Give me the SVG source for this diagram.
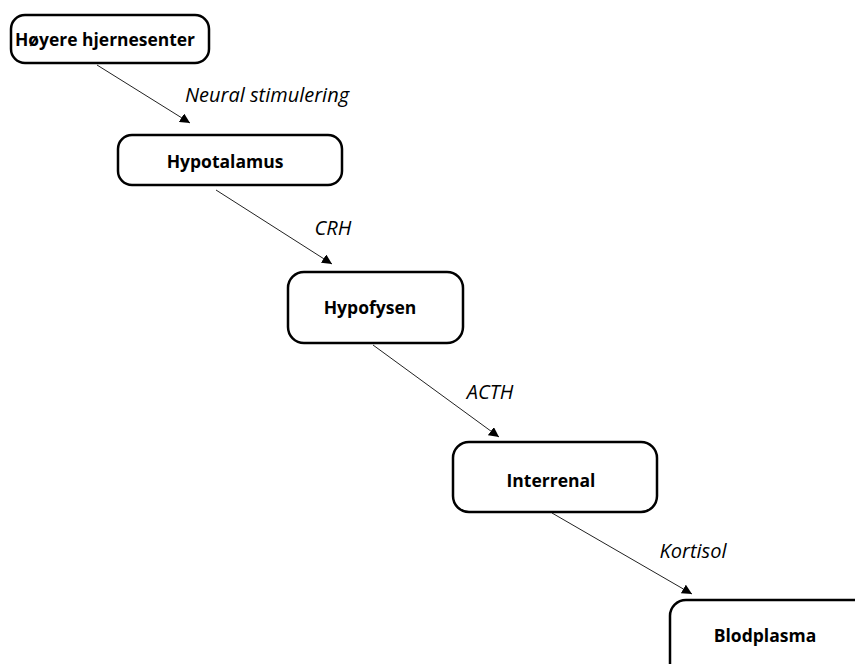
<svg xmlns="http://www.w3.org/2000/svg" width="855" height="664" viewBox="0 0 855 664">
<defs>
<marker id="ah" viewBox="0 0 10 10" refX="10" refY="5" markerWidth="10" markerHeight="10" markerUnits="userSpaceOnUse" orient="auto">
<path d="M0,0 L10,5 L0,10 z" fill="#000"/>
</marker>
<style>
.box{fill:#fff;stroke:#000;stroke-width:2.5}
.nl{font-family:"Open Sans","DejaVu Sans",sans-serif;font-weight:bold;font-size:17.5px;fill:#000;text-anchor:middle}
.el{font-family:"Open Sans","DejaVu Sans",sans-serif;font-style:italic;font-size:20px;fill:#000;text-anchor:middle}
.cn{stroke:#222;stroke-width:1;fill:none;marker-end:url(#ah)}
</style>
</defs>
<rect width="855" height="664" fill="#fff"/>
<g id="connectors">
<line class="cn" x1="97" y1="65" x2="190" y2="123"/>
<line class="cn" x1="216" y1="190" x2="332" y2="264"/>
<line class="cn" x1="373" y1="345" x2="499" y2="437"/>
<line class="cn" x1="552" y1="513" x2="692" y2="594"/>
<text class="el" x="267" y="102">Neural stimulering</text>
<text class="el" x="333" y="235">CRH</text>
<text class="el" x="490" y="399">ACTH</text>
<text class="el" x="693" y="558">Kortisol</text>
</g>
<g id="n1"><rect class="box" x="11" y="15" width="198" height="48" rx="14"/><text class="nl" x="105" y="46" textLength="180" lengthAdjust="spacingAndGlyphs">Høyere hjernesenter</text></g>
<g id="n2"><rect class="box" x="118" y="135" width="224" height="50" rx="14"/><text class="nl" x="225" y="168">Hypotalamus</text></g>
<g id="n3"><rect class="box" x="288" y="272" width="175" height="71" rx="16"/><text class="nl" x="370" y="314">Hypofysen</text></g>
<g id="n4"><rect class="box" x="453" y="442" width="204" height="70" rx="16"/><text class="nl" x="551" y="487">Interrenal</text></g>
<g id="n5"><rect class="box" x="670" y="600" width="200" height="80" rx="16"/><text class="nl" x="765" y="642">Blodplasma</text></g>
</svg>
